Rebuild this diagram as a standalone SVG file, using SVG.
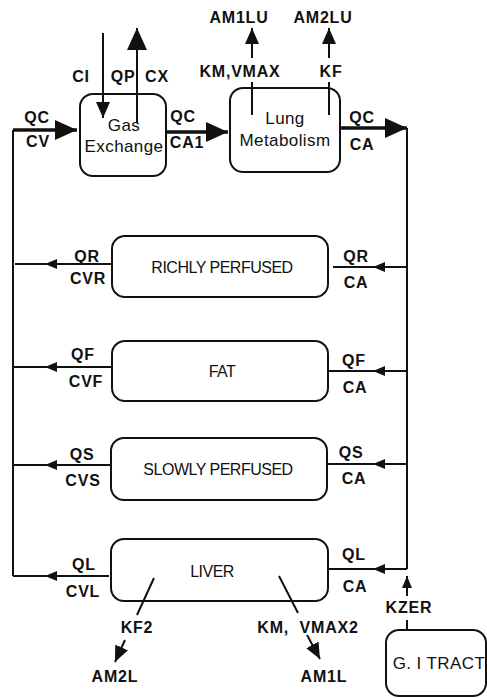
<svg xmlns="http://www.w3.org/2000/svg" width="487" height="698" viewBox="0 0 487 698">
<style>
.bg{fill:#fff}
.box{fill:#fff;stroke:#111;stroke-width:2}
.ln{fill:none;stroke:#111;stroke-width:2}
.thk{fill:none;stroke:#111;stroke-width:3.5}
.lb{font-family:"Liberation Sans",Arial,sans-serif;font-weight:bold;font-size:16px;letter-spacing:0.8px;text-anchor:middle;fill:#111}
.nt{font-family:"Liberation Sans",Arial,sans-serif;font-size:16px;letter-spacing:-0.5px;text-anchor:middle;fill:#111}
.nt2{font-family:"Liberation Sans",Arial,sans-serif;font-size:17px;letter-spacing:0.4px;text-anchor:middle;fill:#111}
</style>
<defs>
<marker id="big" viewBox="0 0 22 20" refX="22" refY="10" markerWidth="22" markerHeight="20" markerUnits="userSpaceOnUse" orient="auto"><path d="M0,0 L22,10 L0,20 z" fill="#111"/></marker>
<marker id="mid" viewBox="0 0 16 14" refX="16" refY="7" markerWidth="16" markerHeight="14" markerUnits="userSpaceOnUse" orient="auto"><path d="M0,0 L16,7 L0,14 z" fill="#111"/></marker>
<marker id="sm" viewBox="0 0 12 10" refX="12" refY="5" markerWidth="12" markerHeight="10" markerUnits="userSpaceOnUse" orient="auto"><path d="M0,0 L12,5 L0,10 z" fill="#111"/></marker>
</defs>
<rect class="bg" x="0" y="0" width="487" height="698"/>

<g id="gas-exchange">
  <rect class="box" x="80" y="94" width="86" height="82" rx="13"/>
  <text class="nt2" x="124" y="131">Gas</text>
  <text class="nt2" x="124" y="152">Exchange</text>
</g>
<g id="lung-metabolism">
  <rect class="box" x="230" y="88" width="110" height="84" rx="13"/>
  <text class="nt2" x="285" y="124">Lung</text>
  <text class="nt2" x="285" y="146">Metabolism</text>
</g>
<g id="richly-perfused">
  <rect class="box" x="112" y="236" width="216" height="61" rx="13"/>
  <text class="nt" x="222" y="273">RICHLY PERFUSED</text>
</g>
<g id="fat">
  <rect class="box" x="112" y="341" width="216" height="60" rx="13"/>
  <text class="nt" x="222" y="377">FAT</text>
</g>
<g id="slowly-perfused">
  <rect class="box" x="111" y="438" width="216" height="62" rx="13"/>
  <text class="nt" x="218" y="475">SLOWLY PERFUSED</text>
</g>
<g id="liver">
  <rect class="box" x="111" y="539" width="217" height="62" rx="13"/>
  <text class="nt" x="212" y="577">LIVER</text>
</g>
<g id="gi-tract">
  <rect class="box" x="386" y="630" width="100" height="66" rx="13"/>
  <text class="nt2" x="439" y="669" letter-spacing="0">G. I TRACT</text>
</g>

<g id="connectors">
  <path class="ln" d="M13,130 L13,576"/>
  <path class="ln" d="M407,128 L407,569"/>
  <path class="thk" d="M13,130 L77,130" marker-end="url(#big)"/>
  <path class="ln" d="M103,33 L103,118" marker-end="url(#mid)"/>
  <path class="ln" d="M137,123 L137,28" marker-end="url(#big)"/>
  <path class="thk" d="M166,132 L228,132" marker-end="url(#big)"/>
  <path class="thk" d="M340,128 L407,128" marker-end="url(#big)"/>
  <path class="ln" d="M252,115 L252,82"/>
  <path class="ln" d="M252,58 L252,28" marker-end="url(#mid)"/>
  <path class="ln" d="M329,115 L329,82"/>
  <path class="ln" d="M329,58 L329,28" marker-end="url(#mid)"/>
  <path class="ln" d="M112,264 L45,264 L15,264" marker-mid="url(#sm)"/>
  <path class="ln" d="M407,267 L373,267 L333,267" marker-mid="url(#sm)"/>
  <path class="ln" d="M112,367 L45,367 L13,367" marker-mid="url(#sm)"/>
  <path class="ln" d="M407,371 L373,371 L328,371" marker-mid="url(#sm)"/>
  <path class="ln" d="M111,465 L45,465 L13,465" marker-mid="url(#sm)"/>
  <path class="ln" d="M407,464 L373,464 L327,464" marker-mid="url(#sm)"/>
  <path class="ln" d="M109,576 L45,576 L13,576" marker-mid="url(#sm)"/>
  <path class="ln" d="M407,569 L373,569 L328,569" marker-mid="url(#sm)"/>
  <path class="ln" d="M154,578 L137,615"/>
  <path class="ln" d="M125,640 L115,662" marker-end="url(#mid)"/>
  <path class="ln" d="M279,576 L298,613"/>
  <path class="ln" d="M307,635 L320,659" marker-end="url(#mid)"/>
  <path class="ln" d="M407,596 L407,576" marker-end="url(#sm)"/>
  <path class="ln" d="M407,620 L407,630"/>

  <text class="lb" x="81" y="82">CI</text>
  <text class="lb" x="123" y="82">QP</text>
  <text class="lb" x="157" y="82">CX</text>
  <text class="lb" x="37" y="123">QC</text>
  <text class="lb" x="38" y="147">CV</text>
  <text class="lb" x="183" y="122">QC</text>
  <text class="lb" x="187" y="148">CA1</text>
  <text class="lb" x="362" y="123">QC</text>
  <text class="lb" x="362" y="150">CA</text>
  <text class="lb" x="239" y="23">AM1LU</text>
  <text class="lb" x="323" y="23">AM2LU</text>
  <text class="lb" x="240" y="77">KM,VMAX</text>
  <text class="lb" x="331" y="77">KF</text>

  <text class="lb" x="87" y="262">QR</text>
  <text class="lb" x="88" y="284">CVR</text>
  <text class="lb" x="356" y="262">QR</text>
  <text class="lb" x="356" y="288">CA</text>

  <text class="lb" x="83" y="360">QF</text>
  <text class="lb" x="86" y="387">CVF</text>
  <text class="lb" x="354" y="366">QF</text>
  <text class="lb" x="355" y="393">CA</text>

  <text class="lb" x="82" y="460">QS</text>
  <text class="lb" x="83" y="486">CVS</text>
  <text class="lb" x="351" y="458">QS</text>
  <text class="lb" x="354" y="484">CA</text>

  <text class="lb" x="84" y="570">QL</text>
  <text class="lb" x="83" y="597">CVL</text>
  <text class="lb" x="354" y="560">QL</text>
  <text class="lb" x="355" y="592">CA</text>

  <text class="lb" x="137" y="633">KF2</text>
  <text class="lb" x="115" y="682">AM2L</text>
  <text class="lb" x="308" y="633" xml:space="preserve">KM,  VMAX2</text>
  <text class="lb" x="324" y="682">AM1L</text>
  <text class="lb" x="409" y="613">KZER</text>
</g>
</svg>
